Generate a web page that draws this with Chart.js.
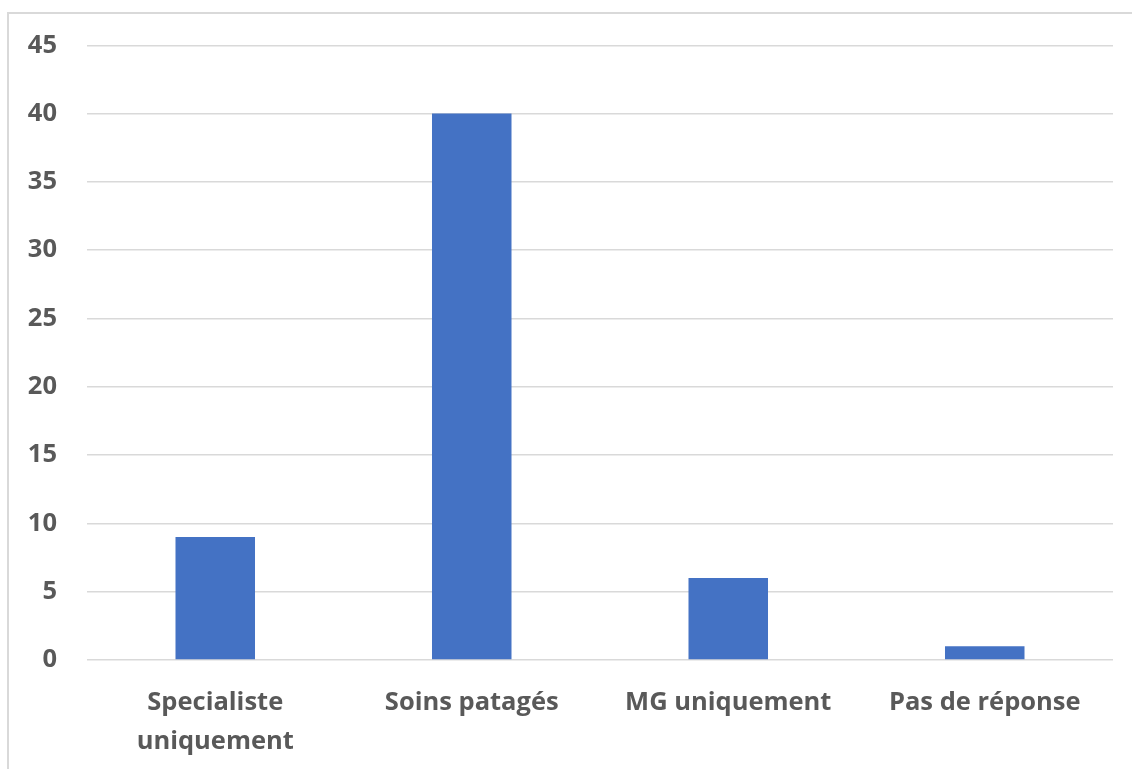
<!DOCTYPE html>
<html>
<head>
<meta charset="utf-8">
<script src="https://cdn.jsdelivr.net/npm/chart.js@4"></script>
<style>
  html, body { margin: 0; padding: 0; background: #fff; overflow: hidden; }
  #frame { position: absolute; left: 7px; top: 12px; width: 1200px; height: 800px; border: 2px solid #d9d9d9; }
  #wrap { position: absolute; left: 0; top: 0; width: 1132px; height: 769px; }
</style>
</head>
<body>
<div id="frame"></div>
<div id="wrap"><canvas id="chart"></canvas></div>
<script>
const categories = [["Specialiste", "uniquement"], "Soins patagés", "MG uniquement", "Pas de réponse"];
const values = [9, 40, 6, 1];
const yTicks = [0, 5, 10, 15, 20, 25, 30, 35, 40, 45];

const labelColor = "#595959";
const gridColor = "#d9d9d9";

new Chart(document.getElementById("chart"), {
  type: "bar",
  data: {
    labels: categories,
    datasets: [{
      data: values,
      backgroundColor: "#4472c4",
      barPercentage: 0.62,
      categoryPercentage: 0.5
    }]
  },
  options: {
    responsive: true,
    maintainAspectRatio: false,
    animation: false,
    layout: { padding: { top: 45, right: 19, left: 0, bottom: 0 } },
    plugins: { legend: { display: false }, tooltip: { enabled: false } },
    scales: {
      x: {
        grid: { display: false },
        border: { display: false },
        ticks: {
          color: labelColor,
          font: { family: "Open Sans", size: 25.5, weight: "bold", lineHeight: 1.53 },
          padding: 15,
          maxRotation: 0
        },
        afterFit: (s) => { s.height = 109; }
      },
      y: {
        min: 0,
        max: 45,
        afterBuildTicks: (s) => { s.ticks = yTicks.map(v => ({ value: v })); },
        grid: { color: gridColor, lineWidth: 1.5, drawTicks: false },
        border: { display: false },
        ticks: {
          color: labelColor,
          font: { family: "Open Sans", size: 25.5, weight: "bold" },
          padding: 30
        },
        afterFit: (s) => { s.width = 87; }
      }
    }
  }
});
</script>
</body>
</html>
